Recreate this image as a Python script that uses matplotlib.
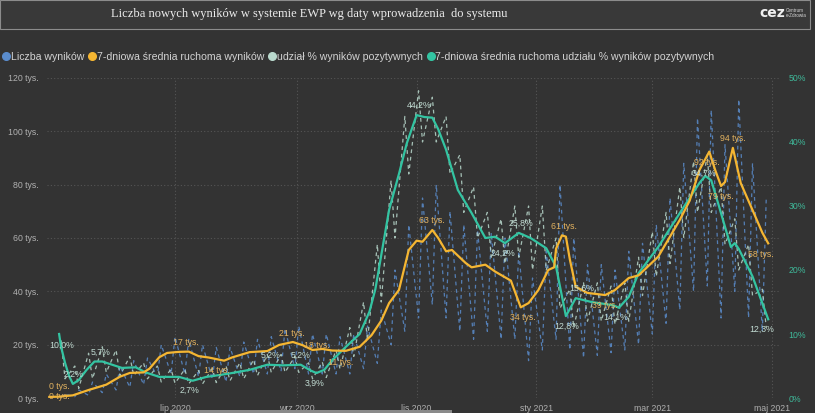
import matplotlib
matplotlib.use('Agg')
import matplotlib.pyplot as plt
from matplotlib.lines import Line2D
from matplotlib.patches import Rectangle
import pandas as pd

# ---------------- data ----------------
# 7-day moving average of number of results (thousands)
avg_dates = ['2020-04-28', '2020-05-03', '2020-05-10', '2020-05-18', '2020-05-27', '2020-06-03',
             '2020-06-08', '2020-06-15', '2020-06-18', '2020-06-23', '2020-06-27', '2020-07-03',
             '2020-07-08', '2020-07-13', '2020-07-18', '2020-07-26', '2020-07-30', '2020-08-08',
             '2020-08-17', '2020-08-23', '2020-08-30', '2020-09-04', '2020-09-09', '2020-09-14',
             '2020-09-19', '2020-09-26', '2020-10-03', '2020-10-09', '2020-10-14', '2020-10-18',
             '2020-10-23', '2020-10-28', '2020-11-01', '2020-11-04', '2020-11-09', '2020-11-12',
             '2020-11-16', '2020-11-19', '2020-11-26', '2020-11-29', '2020-12-06', '2020-12-11',
             '2020-12-19', '2020-12-24', '2020-12-28', '2021-01-02', '2021-01-07', '2021-01-10',
             '2021-01-11', '2021-01-14', '2021-01-16', '2021-01-18', '2021-01-21', '2021-01-27',
             '2021-02-05', '2021-02-10', '2021-02-17', '2021-02-22', '2021-03-04', '2021-03-15',
             '2021-03-20', '2021-03-25', '2021-03-30', '2021-04-02', '2021-04-05', '2021-04-07',
             '2021-04-11', '2021-04-15', '2021-04-21', '2021-04-26', '2021-04-29']
avg_tests_k = [0.4, 0.5, 1.0, 3.0, 5.0, 8.0,
               9.4, 9.6, 11.0, 15.3, 16.9, 17.3,
               17.4, 15.7, 15.2, 14.0, 15.2, 17.2,
               17.6, 19.9, 21.0, 19.8, 18.0, 18.4,
               17.8, 17.7, 19.2, 23.5, 29.0, 35.6,
               40.5, 55.5, 59.0, 58.6, 63.0, 60.0,
               55.0, 55.5, 50.6, 49.0, 50.0, 47.4,
               44.0, 34.0, 35.6, 40.5, 48.0, 49.0,
               56.0, 61.0, 60.5, 52.0, 41.7, 39.4,
               38.6, 40.5, 45.0, 46.0, 53.0, 66.8,
               74.0, 85.5, 92.4, 85.5, 79.5, 81.0,
               93.8, 80.6, 70.5, 62.0, 58.0]

# 7-day moving average of share of positive results (%)
share_dates = ['2020-05-03', '2020-05-04', '2020-05-06', '2020-05-08', '2020-05-10', '2020-05-13',
               '2020-05-17', '2020-05-21', '2020-05-25', '2020-05-30', '2020-06-04', '2020-06-11',
               '2020-06-16', '2020-06-23', '2020-07-03', '2020-07-10', '2020-07-17', '2020-07-24',
               '2020-07-30', '2020-08-08', '2020-08-17', '2020-08-25', '2020-09-03', '2020-09-08',
               '2020-09-11', '2020-09-15', '2020-09-19', '2020-09-26', '2020-10-03', '2020-10-08',
               '2020-10-11', '2020-10-18', '2020-10-23', '2020-10-27', '2020-11-01', '2020-11-05',
               '2020-11-09', '2020-11-12', '2020-11-16', '2020-11-22', '2020-11-29', '2020-12-06',
               '2020-12-11', '2020-12-16', '2020-12-23', '2020-12-29', '2021-01-06', '2021-01-11',
               '2021-01-16', '2021-01-21', '2021-01-29', '2021-02-09', '2021-02-12', '2021-02-17',
               '2021-02-22', '2021-03-04', '2021-03-15', '2021-03-25', '2021-03-28', '2021-03-31',
               '2021-04-04', '2021-04-10', '2021-04-12', '2021-04-14', '2021-04-21', '2021-04-29']
share_avg = [10.0, 8.0, 5.5, 3.5, 2.2, 2.8,
             4.4, 5.7, 5.7, 5.2, 4.7, 4.8,
             4.0, 3.3, 3.3, 2.7, 3.3, 3.6,
             3.9, 4.4, 5.2, 5.1, 5.2, 4.3,
             3.9, 4.4, 5.9, 8.0, 10.0, 13.5,
             17.0, 29.4, 35.0, 39.8, 44.2, 43.9,
             43.8, 42.0, 38.8, 32.5, 28.9, 25.0,
             25.2, 24.2, 25.8, 25.0, 23.4, 20.5,
             12.8, 15.6, 15.0, 14.5, 14.1, 15.8,
             19.5, 23.6, 28.9, 33.6, 34.7, 34.0,
             29.9, 23.6, 24.2, 23.3, 19.0, 12.3]

# daily values: two readings per week (Monday, Wednesday)
week_mondays = pd.date_range('2020-05-04', periods=52, freq='7D')
tests_low_k = [0.2, 0.5, 1, 2, 3, 4, 5, 8, 9, 9, 8, 7, 6, 8, 9, 9, 10, 11, 9, 9, 9, 9, 11, 13, 20, 25,
               30, 35, 30, 25, 22, 25, 22, 22, 14, 18, 22, 18, 15, 16, 17, 18, 20, 24, 28, 33, 40, 42,
               30, 40, 30, 25]
tests_high_k = [1.5, 3, 6, 9, 12, 14, 15, 20, 23, 22, 20, 19, 19, 21, 22, 23, 26, 27, 24, 24, 23, 24,
                27, 33, 48, 65, 75, 80, 70, 65, 63, 62, 60, 55, 45, 55, 80, 60, 50, 50, 48, 55, 58,
                65, 75, 88, 105, 108, 95, 112, 88, 75]
share_high = [9, 5, 7, 8, 7.5, 6.5, 5.5, 5, 4.5, 4.5, 4.3, 4.6, 5, 5.5, 6, 6.8, 6.8, 6.5, 5.5, 5.6,
              7.5, 11, 15, 24, 34, 44, 48, 47, 44, 38, 33, 29, 28, 30, 30, 30, 25, 17, 18, 18, 17.5,
              18, 22, 26, 29, 33, 37, 38, 33, 28, 24, 17]
share_low = [3, 1.5, 3, 4, 3.5, 3.5, 3, 2.5, 2.3, 2.2, 2.2, 2.4, 2.7, 3, 3.5, 4, 4, 4, 3, 3.2, 4.5,
             6.5, 9, 15, 25, 35, 40, 40, 35, 29, 25, 22, 21, 22, 20, 20, 14, 11, 12, 12, 11.5, 12,
             16, 19, 21, 25, 29, 29, 24, 20, 16, 11]

x_tick_dates = ['2020-07-01', '2020-09-01', '2020-11-01', '2021-01-01', '2021-03-01', '2021-05-01']
x_tick_labels = ['lip 2020', 'wrz 2020', 'lis 2020', 'sty 2021', 'mar 2021', 'maj 2021']
y_ticks = [0, 20000, 40000, 60000, 80000, 100000, 120000]
y2_ticks = [0, 10, 20, 30, 40, 50]

legend_labels = ['Liczba wyników', '7-dniowa średnia ruchoma wyników',
                 'udział % wyników pozytywnych', '7-dniowa średnia ruchoma udziału % wyników pozytywnych']

# labels on the count average line: (date, text, dx px, dy px)
count_labels = [('2020-04-28', '0 tys.', 10, 10), ('2020-05-03', '0 tys.', 0, 0),
                ('2020-07-08', '17 tys.', -3, 9), ('2020-07-26', '14 tys.', -7, -10),
                ('2020-08-30', '21 tys.', -1, 9), ('2020-09-09', '18 tys.', 4, 5),
                ('2020-09-26', '11 tys.', -5, -12), ('2020-11-09', '63 tys.', 0, 9),
                ('2020-12-24', '34 tys.', 2, -10), ('2021-01-14', '61 tys.', 2, 9),
                ('2021-02-05', '39 tys.', 0, -10), ('2021-03-30', '92 tys.', -2, -11),
                ('2021-04-05', '79 tys.', 0, -11), ('2021-04-11', '94 tys.', 0, 9),
                ('2021-04-29', '58 tys.', -7, -11)]
# labels on the share average line: (date, dx px, dy px)
share_labels = [('2020-05-03', 3, -11), ('2020-05-10', 1, 10), ('2020-05-21', 6, 9.5),
                ('2020-07-10', -3, -10), ('2020-08-17', 3, 9), ('2020-09-03', 0, 9),
                ('2020-09-11', -2, -10), ('2020-11-01', 3, 10), ('2020-12-16', -2, -10),
                ('2020-12-23', 2, 10), ('2021-01-16', 1, -10), ('2021-01-21', 6, 10),
                ('2021-02-12', -3, -10), ('2021-03-28', -1, 3), ('2021-04-29', -7, -10)]

# ---------------- styling ----------------
BG = '#333333'
C_BLUE = '#5a8ccc'
C_ORANGE = '#f5b632'
C_MINT = '#b9d9cd'
C_TEAL = '#33c4a2'
C_TICK = '#b0b0b0'
FONT = 'Liberation Sans'

W, H = 815, 413
fig = plt.figure(figsize=(W / 100, H / 100), dpi=100, facecolor=BG)

# title bar
fig.add_artist(Rectangle((0.0, 1 - 29 / H), 810 / W, 29 / H, transform=fig.transFigure,
                         facecolor='#393939', edgecolor='#8c8c8c', lw=0.8))
fig.text(309 / W, 1 - 13.5 / H, 'Liczba nowych wyników w systemie EWP wg daty wprowadzenia  do systemu',
         family='Liberation Serif', fontsize=9.0, color='#ececec', ha='center', va='center')
fig.text(772 / W, 1 - 13 / H, 'cez', family='DejaVu Sans', fontsize=10, fontweight='bold',
         color='#f0f0f0', ha='center', va='center')
fig.text(786 / W, 1 - 13 / H, 'Centrum\ne-Zdrowia', family=FONT, fontsize=3.3,
         color='#d8d8d8', ha='left', va='center', linespacing=1.1)

# scrollbar at bottom
fig.add_artist(Rectangle((170 / W, 0), 282 / W, 3 / H, transform=fig.transFigure,
                         facecolor='#8a8a8a', edgecolor='none'))

ax = fig.add_axes([47 / W, 15 / H, 733 / W, 320 / H])
ax.set_facecolor(BG)
ax2 = ax.twinx()
XMIN, XMAX = pd.Timestamp('2020-04-26 20:00'), pd.Timestamp('2021-05-05')
ax.set_xlim(XMIN, XMAX)
ax.set_ylim(0, 120000)
ax2.set_ylim(0, 50)

for a in (ax, ax2):
    for s in a.spines.values():
        s.set_visible(False)

ax.set_yticks(y_ticks)
ax.set_yticklabels([f'{v // 1000} tys.' for v in y_ticks], family=FONT, fontsize=6.3, color=C_TICK)
ax2.set_yticks(y2_ticks)
ax2.set_yticklabels([f'{v}%' for v in y2_ticks], family=FONT, fontsize=6.3, color='#3fb99a')
ax.set_xticks(pd.to_datetime(x_tick_dates))
ax.set_xticklabels(x_tick_labels, family=FONT, fontsize=6.3, color=C_TICK)
ax.tick_params(axis='y', length=0, pad=6)
ax.tick_params(axis='x', length=0, pad=4)
ax2.tick_params(axis='y', length=0, pad=6)
ax.grid(True, color='#555555', linestyle=(0, (1, 2)), linewidth=0.8)
ax.set_axisbelow(True)

# daily series (two readings per week)
daily_dates, tests_daily, share_daily = [], [], []
for i, m in enumerate(week_mondays):
    daily_dates += [m, m + pd.Timedelta(days=2)]
    tests_daily += [tests_low_k[i] * 1000, tests_high_k[i] * 1000]
    share_daily += [share_high[i], share_low[i]]

tr_share = ax2.transData
ax.plot(daily_dates, tests_daily, color=C_BLUE, lw=0.9, ls=(0, (3, 3)), alpha=0.85, zorder=2)
ax.plot(daily_dates, share_daily, color=C_MINT, lw=0.9, ls=(0, (3, 3)), alpha=0.85, zorder=2.1,
        transform=tr_share)
ax.plot(pd.to_datetime(share_dates), share_avg, color=C_TEAL, lw=1.6, zorder=3,
        transform=tr_share, solid_joinstyle='round')
ax.plot(pd.to_datetime(avg_dates), [v * 1000 for v in avg_tests_k], color=C_ORANGE, lw=1.6,
        zorder=4, solid_joinstyle='round')
ax.set_xlim(XMIN, XMAX)
ax.set_ylim(0, 120000)
ax2.set_ylim(0, 50)

avg_lookup = dict(zip(avg_dates, avg_tests_k))
for d, txt, dx, dy in count_labels:
    ax.annotate(txt, xy=(pd.Timestamp(d), avg_lookup[d] * 1000), xytext=(dx, dy),
                textcoords='offset pixels', ha='center', va='center', family=FONT,
                fontsize=6.3, color='#e2b260', zorder=6)

share_lookup = dict(zip(share_dates, share_avg))
for d, dx, dy in share_labels:
    v = share_lookup[d]
    txt = f'{v:.1f}%'.replace('.', ',')
    ax2.annotate(txt, xy=(pd.Timestamp(d), v), xytext=(dx, dy),
                 textcoords='offset pixels', ha='center', va='center', family=FONT,
                 fontsize=6.3, color='#c2dcd3', zorder=6)
ax2.set_xlim(XMIN, XMAX)

handles = [Line2D([], [], marker='o', ls='', color=c, markersize=5.5)
           for c in (C_BLUE, C_ORANGE, C_MINT, C_TEAL)]
leg = fig.legend(handles, legend_labels, loc='center left', bbox_to_anchor=(3 / W, 1 - 57 / H),
                 ncol=4, frameon=False, handlelength=0.6, handletextpad=0.15, columnspacing=0.45,
                 prop={'family': FONT, 'size': 7.55}, borderaxespad=0, borderpad=0)
for t in leg.get_texts():
    t.set_color('#d2d2d2')

fig.savefig('out.png', dpi=100, facecolor=BG)
